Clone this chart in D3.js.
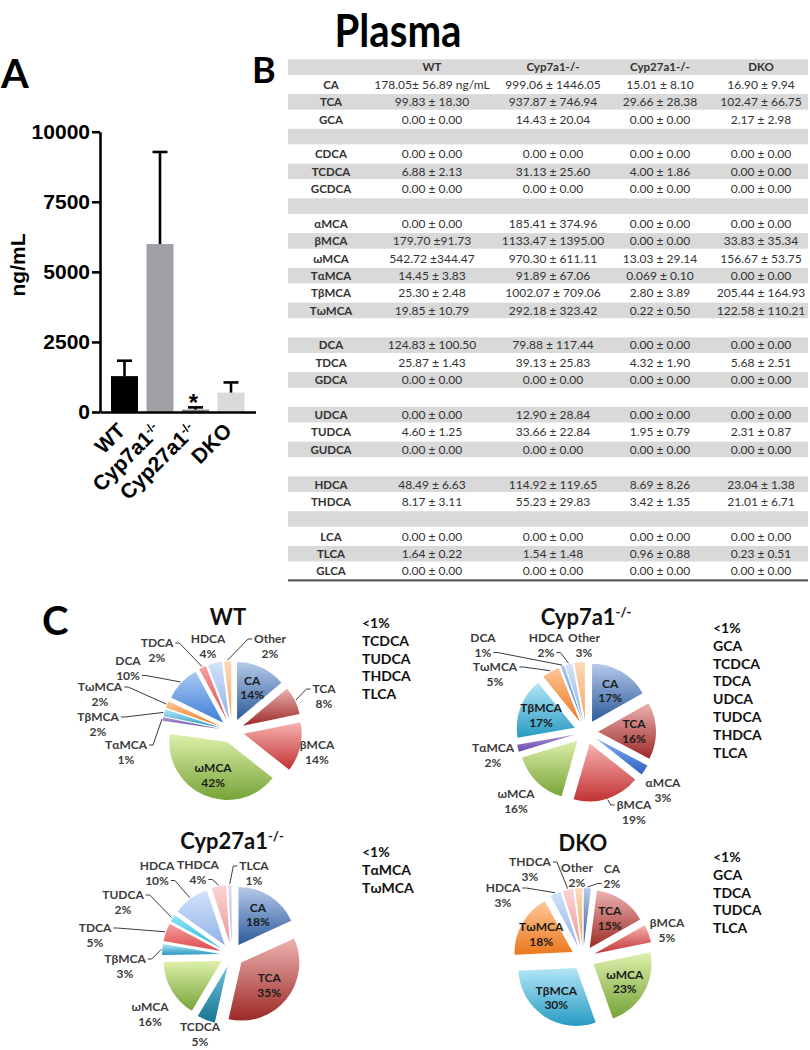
<!DOCTYPE html>
<html><head><meta charset="utf-8">
<script src="https://cdn.jsdelivr.net/npm/d3@7"></script>
<style>body{margin:0;background:#fff} svg{display:block}</style>
</head><body><svg id="c" width="810" height="1050"></svg>
<script>
// ---------------- DATA ----------------
const barGroups = ["WT", "Cyp7a1", "Cyp27a1", "DKO"];
const barSup = ["", "-/-", "-/-", ""];
const barMeans = [1280, 5995, 84, 692];
const barErrors = [550, 3282, 81, 363];
const yTicks = [0, 2500, 5000, 7500, 10000];
const starGroups = ["Cyp27a1"];

const tableHeaders = ["", "WT", "Cyp7a1-/-", "Cyp27a1-/-", "DKO"];
const tableRowLabels = ["CA","TCA","GCA","","CDCA","TCDCA","GCDCA","","αMCA","βMCA","ωMCA","TαMCA","TβMCA","TωMCA","","DCA","TDCA","GDCA","","UDCA","TUDCA","GUDCA","","HDCA","THDCA","","LCA","TLCA","GLCA"];
const tableWT = ["178.05± 56.89 ng/mL","99.83 ± 18.30","0.00 ± 0.00","","0.00 ± 0.00","6.88 ± 2.13","0.00 ± 0.00","","0.00 ± 0.00","179.70 ±91.73","542.72 ±344.47","14.45 ± 3.83","25.30 ± 2.48","19.85 ± 10.79","","124.83 ± 100.50","25.87 ± 1.43","0.00 ± 0.00","","0.00 ± 0.00","4.60 ± 1.25","0.00 ± 0.00","","48.49 ± 6.63","8.17 ± 3.11","","0.00 ± 0.00","1.64 ± 0.22","0.00 ± 0.00"];
const tableCyp7a1 = ["999.06 ± 1446.05","937.87 ± 746.94","14.43 ± 20.04","","0.00 ± 0.00","31.13 ± 25.60","0.00 ± 0.00","","185.41 ± 374.96","1133.47 ± 1395.00","970.30 ± 611.11","91.89 ± 67.06","1002.07 ± 709.06","292.18 ± 323.42","","79.88 ± 117.44","39.13 ± 25.83","0.00 ± 0.00","","12.90 ± 28.84","33.66 ± 22.84","0.00 ± 0.00","","114.92 ± 119.65","55.23 ±  29.83","","0.00 ± 0.00","1.54 ± 1.48","0.00 ± 0.00"];
const tableCyp27a1 = ["15.01 ± 8.10","29.66 ± 28.38","0.00 ± 0.00","","0.00 ± 0.00","4.00 ± 1.86","0.00 ± 0.00","","0.00 ± 0.00","0.00 ± 0.00","13.03 ± 29.14","0.069 ± 0.10","2.80 ± 3.89","0.22 ± 0.50","","0.00 ± 0.00","4.32 ± 1.90","0.00 ± 0.00","","0.00 ± 0.00","1.95 ± 0.79","0.00 ± 0.00","","8.69 ± 8.26","3.42 ± 1.35","","0.00 ± 0.00","0.96 ± 0.88","0.00 ± 0.00"];
const tableDKO = ["16.90 ± 9.94","102.47 ± 66.75","2.17 ± 2.98","","0.00 ± 0.00","0.00 ± 0.00","0.00 ± 0.00","","0.00 ± 0.00","33.83 ± 35.34","156.67 ± 53.75","0.00 ± 0.00","205.44 ± 164.93","122.58 ± 110.21","","0.00 ± 0.00","5.68 ± 2.51","0.00 ± 0.00","","0.00 ± 0.00","2.31 ± 0.87","0.00 ± 0.00","","23.04 ± 1.38","21.01 ± 6.71","","0.00 ± 0.00","0.23 ± 0.51","0.00 ± 0.00"];

const wtPieLabels = ["CA","TCA","βMCA","ωMCA","TαMCA","TβMCA","TωMCA","DCA","TDCA","HDCA","Other"];
const wtPieValues = [14, 8, 14, 42, 1, 2, 2, 10, 2, 4, 2];
const wtMinor = ["TCDCA","TUDCA","THDCA","TLCA"];

const cyp7PieLabels = ["CA","TCA","αMCA","βMCA","ωMCA","TαMCA","TβMCA","TωMCA","DCA","HDCA","Other"];
const cyp7PieValues = [17, 16, 3, 19, 16, 2, 17, 5, 1, 2, 3];
const cyp7Minor = ["GCA","TCDCA","TDCA","UDCA","TUDCA","THDCA","TLCA"];

const cyp27PieLabels = ["CA","TCA","TCDCA","ωMCA","TβMCA","TDCA","TUDCA","HDCA","THDCA","TLCA"];
const cyp27PieValues = [18, 35, 5, 16, 3, 5, 2, 10, 4, 1];
const cyp27Minor = ["TαMCA","TωMCA"];

const dkoPieLabels = ["CA","TCA","βMCA","ωMCA","TβMCA","TωMCA","HDCA","THDCA","Other"];
const dkoPieValues = [2, 15, 5, 23, 30, 18, 3, 3, 2];
const dkoMinor = ["GCA","TDCA","TUDCA","TLCA"];

// ---------------- STYLE ----------------
const FONT = "Lato, 'Noto Sans', 'DejaVu Sans', sans-serif";
const ARIAL = "'Liberation Sans', Arial, sans-serif";
const barColors = ["#000000", "#a0a0a6", "#808080", "#d9d9d9"];
const sliceColors = {
  "CA": ["#b6caea", "#2c5a9c"],
  "TCA": ["#ecb3b1", "#9c2926"],
  "βMCA": ["#f8b2b2", "#c23232"],
  "ωMCA": ["#ddf0ab", "#76a338"],
  "TαMCA": ["#ad94da", "#6547a6"],
  "αMCA": ["#86aef2", "#2e60bf"],
  "TβMCA": ["#b3e6f6", "#279ac3"],
  "TωMCA": ["#fdc89a", "#ec771c"],
  "DCA": ["#acc9f2", "#3d7dd6"],
  "TDCA": ["#f6a0a0", "#dd4a4a"],
  "HDCA": ["#d4e3f9", "#8fb2ea"],
  "Other": ["#fdd9b8", "#f4a662"],
  "TCDCA": ["#70c2da", "#187593"],
  "TUDCA": ["#95e5f6", "#25b5da"],
  "THDCA": ["#fcd4d4", "#ea9999"],
  "TLCA": ["#e6def7", "#b5a4e4"]
};

const svg = d3.select("#c");
const defs = svg.append("defs");
const gradKeys = Object.keys(sliceColors);
gradKeys.forEach((k, i) => {
  const lg = defs.append("linearGradient").attr("id", "sg" + i)
    .attr("x1", 0).attr("y1", 0).attr("x2", 0).attr("y2", 1);
  lg.append("stop").attr("offset", "0%").attr("stop-color", sliceColors[k][0]);
  lg.append("stop").attr("offset", "100%").attr("stop-color", sliceColors[k][1]);
});
const gradFor = l => "url(#sg" + gradKeys.indexOf(l) + ")";

// ---------------- TITLE & PANEL LETTERS ----------------
svg.append("text").attr("x", 398).attr("y", 47).attr("text-anchor", "middle")
  .attr("font-family", FONT).attr("font-weight", 700).attr("font-size", 46)
  .attr("textLength", 127).attr("lengthAdjust", "spacingAndGlyphs").attr("fill", "#000").text("Plasma");
[["A", 1, 88, 40], ["B", 252, 83, 36], ["C", 42, 635, 40]].forEach(([t, x, y, s]) => {
  svg.append("text").attr("x", x).attr("y", y).attr("font-family", FONT)
    .attr("font-weight", 700).attr("font-size", s).attr("fill", "#000").text(t);
});

// ---------------- PANEL A ----------------
const gA = svg.append("g");
const yA = d3.scaleLinear().domain([0, 10000]).range([412, 131.7]);
const xA = d3.scaleBand().domain(barGroups).range([100, 255.5]).paddingInner(0.24).paddingOuter(0.31);

gA.selectAll("rect.bar").data(barGroups).join("rect").attr("class", "bar")
  .attr("x", d => xA(d)).attr("width", xA.bandwidth())
  .attr("y", (d, i) => yA(barMeans[i])).attr("height", (d, i) => yA(0) - yA(barMeans[i]))
  .attr("fill", (d, i) => barColors[i]);

const capW = 15;
barGroups.forEach((g, i) => {
  const cx = xA(g) + xA.bandwidth() / 2;
  const top = yA(barMeans[i] + barErrors[i]);
  gA.append("line").attr("x1", cx).attr("x2", cx).attr("y1", yA(barMeans[i])).attr("y2", top)
    .attr("stroke", "#000").attr("stroke-width", 2.6);
  gA.append("line").attr("x1", cx - capW / 2).attr("x2", cx + capW / 2).attr("y1", top).attr("y2", top)
    .attr("stroke", "#000").attr("stroke-width", 2.6);
});
starGroups.forEach(g => {
  const i = barGroups.indexOf(g);
  gA.append("text").attr("x", xA(g) + xA.bandwidth() / 2 - 2)
    .attr("y", yA(barMeans[i] + barErrors[i]) + 4).attr("text-anchor", "middle")
    .attr("font-family", ARIAL).attr("font-weight", 700).attr("font-size", 24).text("*");
});

const yAxis = gA.append("g").attr("transform", "translate(100,0)")
  .call(d3.axisLeft(yA).tickValues(yTicks).tickSize(8).tickSizeOuter(0).tickPadding(2).tickFormat(d3.format("d")));
yAxis.select(".domain").attr("stroke-width", 2.6).attr("stroke", "#000");
yAxis.selectAll(".tick line").attr("stroke-width", 2.6).attr("stroke", "#000");
yAxis.selectAll(".tick text").attr("font-family", ARIAL).attr("font-weight", 700)
  .attr("font-size", 21).attr("fill", "#000");

const xAxis = gA.append("g").attr("transform", "translate(0,412)")
  .call(d3.axisBottom(xA).tickSize(0).tickSizeOuter(0));
xAxis.select(".domain").attr("stroke-width", 2.6).attr("stroke", "#000");
xAxis.selectAll(".tick text").each(function (d, i) {
  const t = d3.select(this);
  t.text(null).attr("x", null).attr("y", null).attr("dy", null)
    .attr("transform", "translate(2,20) rotate(-45)").attr("text-anchor", "end")
    .attr("font-family", ARIAL).attr("font-weight", 700).attr("font-size", 21).attr("fill", "#000");
  t.append("tspan").text(d);
  if (barSup[i]) t.append("tspan").attr("baseline-shift", "super").attr("font-size", 12).text(barSup[i]);
});

gA.append("text").attr("transform", "translate(25,265) rotate(-90)").attr("text-anchor", "middle")
  .attr("font-family", ARIAL).attr("font-weight", 700).attr("font-size", 21).text("ng/mL");

// ---------------- PANEL B (table) ----------------
const gB = svg.append("g");
const tTop = 58.5, tPitch = 17.38, tX0 = 288, tX1 = 808;
const colX = [331, 432, 553, 660, 761];
const nRows = tableRowLabels.length + 1;
const rowY = i => tTop + i * tPitch;
d3.range(nRows).filter(i => i % 2 === 0).forEach(i => {
  gB.append("rect").attr("x", tX0).attr("y", rowY(i) + 0.8).attr("width", tX1 - tX0)
    .attr("height", tPitch - 1.8).attr("fill", "#d9d9d9");
});
gB.append("line").attr("x1", tX0).attr("x2", tX1).attr("y1", rowY(nRows) + 0.5).attr("y2", rowY(nRows) + 0.5)
  .attr("stroke", "#5a5a5a").attr("stroke-width", 2.2);
tableHeaders.forEach((h, j) => {
  gB.append("text").attr("x", colX[j]).attr("y", rowY(0) + tPitch / 2 + 4).attr("text-anchor", "middle")
    .attr("font-family", FONT).attr("font-weight", 700).attr("font-size", 11.5).attr("fill", "#333").text(h);
});
const tableCols = [tableWT, tableCyp7a1, tableCyp27a1, tableDKO];
tableRowLabels.forEach((lab, r) => {
  const yy = rowY(r + 1) + tPitch / 2 + 4.2;
  gB.append("text").attr("x", colX[0]).attr("y", yy).attr("text-anchor", "middle")
    .attr("font-family", FONT).attr("font-weight", 700).attr("font-size", 11.5).attr("fill", "#333").text(lab);
  tableCols.forEach((col, j) => {
    gB.append("text").attr("x", colX[j + 1]).attr("y", yy).attr("text-anchor", "middle")
      .attr("font-family", FONT).attr("font-size", 12).attr("fill", "#333").text(col[r]);
  });
});

// ---------------- PANEL C (pies) ----------------
const PIE_R = 58, EXPLODE = 12, LINE_GAP = 14.5;
const arc = d3.arc().innerRadius(0).outerRadius(PIE_R);
const labelArc = d3.arc().innerRadius(36).outerRadius(36);
const pie = d3.pie().sort(null).value(d => d.v);
const dirOf = (d, k) => { const a = (d.startAngle + d.endAngle) / 2; return [Math.sin(a) * k, -Math.cos(a) * k]; };

function labelText(g, x, y, lines, fill) {
  return lines.map((s, k) => g.append("text").attr("x", x).attr("y", y + k * LINE_GAP + 4.3)
    .attr("text-anchor", "middle").attr("font-family", FONT).attr("font-weight", 700)
    .attr("font-size", 12).attr("fill", fill).text(s));
}

function drawPie(cfg) {
  const g = svg.append("g").attr("transform", `translate(${cfg.cx},${cfg.cy})`);
  const arcs = pie(cfg.labels.map((l, i) => ({ l, v: cfg.values[i] })));
  g.selectAll("path").data(arcs).join("path")
    .attr("transform", d => `translate(${dirOf(d, EXPLODE)})`)
    .attr("d", arc).attr("fill", d => gradFor(d.data.l));
  arcs.forEach(d => {
    const o = dirOf(d, EXPLODE);
    const pct = d.data.v + "%";
    if (cfg.inside.includes(d.data.l)) {
      const c = labelArc.centroid(d);
      labelText(g, c[0] + o[0], c[1] + o[1] - LINE_GAP / 2, [d.data.l, pct], "#1b1b1b");
    } else {
      const L = cfg.outside[d.data.l];
      const txts = labelText(g, L.x, L.y, [d.data.l, pct], "#3c3c3c");
      if (L.leader) {
        const [ln, side] = L.leader;
        const w = txts[ln].node().getComputedTextLength();
        const ly = L.y + ln * LINE_GAP;
        const sx = side === "right" ? L.x + w / 2 + 2 : L.x - w / 2 - 2;
        const hx = side === "right" ? sx + 4 : sx - 4;
        const e = dirOf(d, PIE_R + 1);
        g.append("path").attr("d", `M${sx},${ly}H${hx}L${e[0] + o[0]},${e[1] + o[1]}`)
          .attr("fill", "none").attr("stroke", "#3c3c3c").attr("stroke-width", 1);
      }
    }
  });
  const t = svg.append("text").attr("x", cfg.tx).attr("y", cfg.ty).attr("text-anchor", "middle")
    .attr("font-family", FONT).attr("font-weight", 700).attr("font-size", 22).attr("fill", "#111");
  t.append("tspan").text(cfg.title);
  if (cfg.sup) t.append("tspan").attr("baseline-shift", "super").attr("font-size", 13).text(cfg.sup);
  ["<1%"].concat(cfg.minor).forEach((m, k) => {
    svg.append("text").attr("x", cfg.mx).attr("y", cfg.my + k * 17.8).attr("font-family", FONT)
      .attr("font-weight", 700).attr("font-size", 14).attr("fill", "#111").text(m);
  });
}

drawPie({
  labels: wtPieLabels, values: wtPieValues, minor: wtMinor, title: "WT", sup: "",
  cx: 232, cy: 731, tx: 228, ty: 625, mx: 362, my: 628,
  inside: ["CA", "ωMCA"],
  outside: {
    "TCA": { x: 92, y: -42, leader: [0, "left"] },
    "βMCA": { x: 85, y: 14 },
    "TαMCA": { x: -106, y: 14, leader: [0, "right"] },
    "TβMCA": { x: -134, y: -14, leader: [0, "right"] },
    "TωMCA": { x: -132, y: -44, leader: [0, "right"] },
    "DCA": { x: -104, y: -70, leader: [1, "right"] },
    "TDCA": { x: -75, y: -88, leader: [0, "right"] },
    "HDCA": { x: -24, y: -92 },
    "Other": { x: 38, y: -92, leader: [0, "left"] }
  }
});
drawPie({
  labels: cyp7PieLabels, values: cyp7PieValues, minor: cyp7Minor, title: "Cyp7a1", sup: "-/-",
  cx: 586, cy: 732, tx: 586, ty: 625, mx: 713, my: 633,
  inside: ["CA", "TCA", "TβMCA"],
  outside: {
    "αMCA": { x: 77, y: 51 },
    "βMCA": { x: 48, y: 73, leader: [0, "left"] },
    "ωMCA": { x: -70, y: 62 },
    "TαMCA": { x: -93, y: 16 },
    "TωMCA": { x: -91, y: -65, leader: [0, "right"] },
    "DCA": { x: -103, y: -94, leader: [1, "right"] },
    "HDCA": { x: -40, y: -94, leader: [1, "right"] },
    "Other": { x: -2, y: -94 }
  }
});
drawPie({
  labels: cyp27PieLabels, values: cyp27PieValues, minor: cyp27Minor, title: "Cyp27a1", sup: "-/-",
  cx: 232, cy: 955, tx: 232, ty: 849, mx: 362, my: 857,
  inside: ["CA", "TCA"],
  outside: {
    "TCDCA": { x: -32, y: 72 },
    "ωMCA": { x: -82, y: 52 },
    "TβMCA": { x: -107, y: 4, leader: [0, "right"] },
    "TDCA": { x: -137, y: -27, leader: [0, "right"] },
    "TUDCA": { x: -109, y: -60, leader: [0, "right"] },
    "HDCA": { x: -75, y: -89, leader: [1, "right"] },
    "THDCA": { x: -34, y: -90, leader: [1, "right"] },
    "TLCA": { x: 22, y: -89, leader: [0, "left"] }
  }
});
drawPie({
  labels: dkoPieLabels, values: dkoPieValues, minor: dkoMinor, title: "DKO", sup: "",
  cx: 583, cy: 958, tx: 583, ty: 851, mx: 713, my: 862,
  inside: ["TCA", "ωMCA", "TβMCA", "TωMCA"],
  outside: {
    "CA": { x: 29, y: -89, leader: [1, "left"] },
    "Other": { x: -6, y: -90 },
    "THDCA": { x: -53, y: -96, leader: [0, "right"] },
    "HDCA": { x: -80, y: -70, leader: [0, "right"] },
    "βMCA": { x: 84, y: -35 }
  }
});
</script>
</body></html>
